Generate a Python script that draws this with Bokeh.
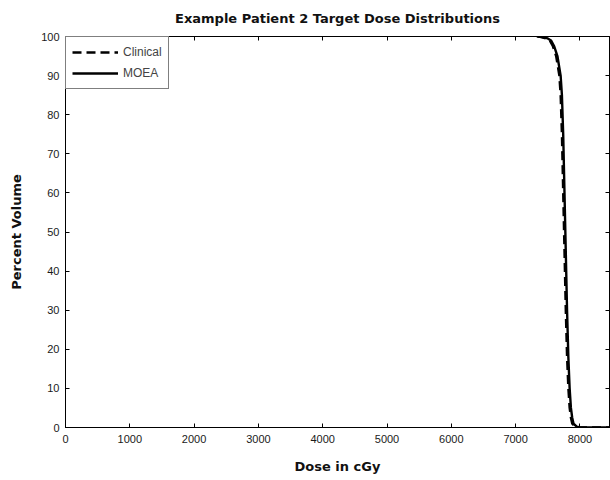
from bokeh.plotting import figure
from bokeh.models import LinearAxis, Range1d, FixedTicker, Legend, LegendItem
from bokeh.embed import file_html
from bokeh.resources import INLINE

# Cumulative dose-volume histogram for the target volume
moea_dose = [7350, 7400, 7500, 7550, 7600, 7650, 7700, 7720, 7740, 7760,
             7780, 7800, 7820, 7840, 7860, 7880, 7900, 7950, 8000, 8460]
moea_vol = [100, 99.9, 99.5, 99.0, 97.5, 95.0, 90.0, 85.0, 75.0, 60.0,
            45.0, 30.0, 18.0, 10.0, 5.0, 2.5, 1.0, 0.2, 0.0, 0.0]

clinical_dose = [7330, 7380, 7480, 7530, 7580, 7630, 7680, 7700, 7720, 7740,
                 7760, 7780, 7800, 7820, 7840, 7860, 7880, 7930, 7980, 8460]
clinical_vol = [100, 99.9, 99.5, 99.0, 97.5, 95.0, 90.0, 85.0, 75.0, 60.0,
                45.0, 30.0, 18.0, 10.0, 5.0, 2.5, 1.0, 0.2, 0.0, 0.0]

x_ticks = [0, 1000, 2000, 3000, 4000, 5000, 6000, 7000, 8000]
y_ticks = [0, 10, 20, 30, 40, 50, 60, 70, 80, 90, 100]

p = figure(width=610, height=480, output_backend="svg", toolbar_location=None,
           x_range=Range1d(0, 8460), y_range=Range1d(0, 100),
           title="Example Patient 2 Target Dose Distributions",
           min_border_left=65, min_border_right=1, min_border_top=36,
           min_border_bottom=53)

p.title.align = "center"
p.title.vertical_align = "top"
p.title.text_font = "DejaVu Sans"
p.title.text_font_size = "13px"
p.title.text_font_style = "bold"
p.title.text_color = "#111111"
p.title.standoff = 18

p.xgrid.visible = False
p.ygrid.visible = False
p.outline_line_color = "black"
p.outline_line_width = 1
p.background_fill_color = "white"
p.border_fill_color = "white"

tick_font = "Liberation Sans"
for ax, ticks in ((p.xaxis[0], x_ticks), (p.yaxis[0], y_ticks)):
    ax.ticker = FixedTicker(ticks=ticks)
    ax.major_tick_in = 4
    ax.major_tick_out = 0
    ax.minor_tick_line_color = None
    ax.axis_line_color = "black"
    ax.major_label_text_font = tick_font
    ax.major_label_text_font_size = "11px"
    ax.major_label_text_color = "#1a1a1a"
    ax.axis_label_text_font = "DejaVu Sans"
    ax.axis_label_text_font_size = "13px"
    ax.axis_label_text_font_style = "bold"
    ax.axis_label_text_color = "#111111"

p.xaxis.axis_label = "Dose in cGy"
p.yaxis.axis_label = "Percent Volume"
p.xaxis.major_label_standoff = 7
p.xaxis.axis_label_standoff = 13
p.yaxis.major_label_standoff = 6
p.yaxis.axis_label_standoff = 14

# Box-style tick marks on the opposite sides, without labels
top = LinearAxis(ticker=FixedTicker(ticks=x_ticks),
                 major_label_overrides={t: "" for t in x_ticks},
                 major_label_standoff=0,
                 major_tick_in=4, major_tick_out=0, minor_tick_line_color=None,
                 axis_line_color="black")
right = LinearAxis(ticker=FixedTicker(ticks=y_ticks),
                   major_label_overrides={t: "" for t in y_ticks},
                   major_label_standoff=0,
                   major_tick_in=4, major_tick_out=0, minor_tick_line_color=None,
                   axis_line_color="black")
p.add_layout(top, "above")
p.add_layout(right, "right")

r_clin = p.line(clinical_dose, clinical_vol, line_color="black", line_width=2.4,
                line_dash="9 5")
r_moea = p.line(moea_dose, moea_vol, line_color="black", line_width=2.4)

legend = Legend(items=[LegendItem(label="Clinical", renderers=[r_clin]),
                       LegendItem(label="MOEA", renderers=[r_moea])],
                location="top_left", margin=0, padding=6, spacing=3,
                label_text_font=tick_font, label_text_font_size="12px",
                label_height=18, glyph_width=46, glyph_height=18,
                border_line_color="black", border_line_width=1,
                background_fill_alpha=1.0)
p.add_layout(legend)

open("out.html", "w").write(file_html(p, INLINE))
